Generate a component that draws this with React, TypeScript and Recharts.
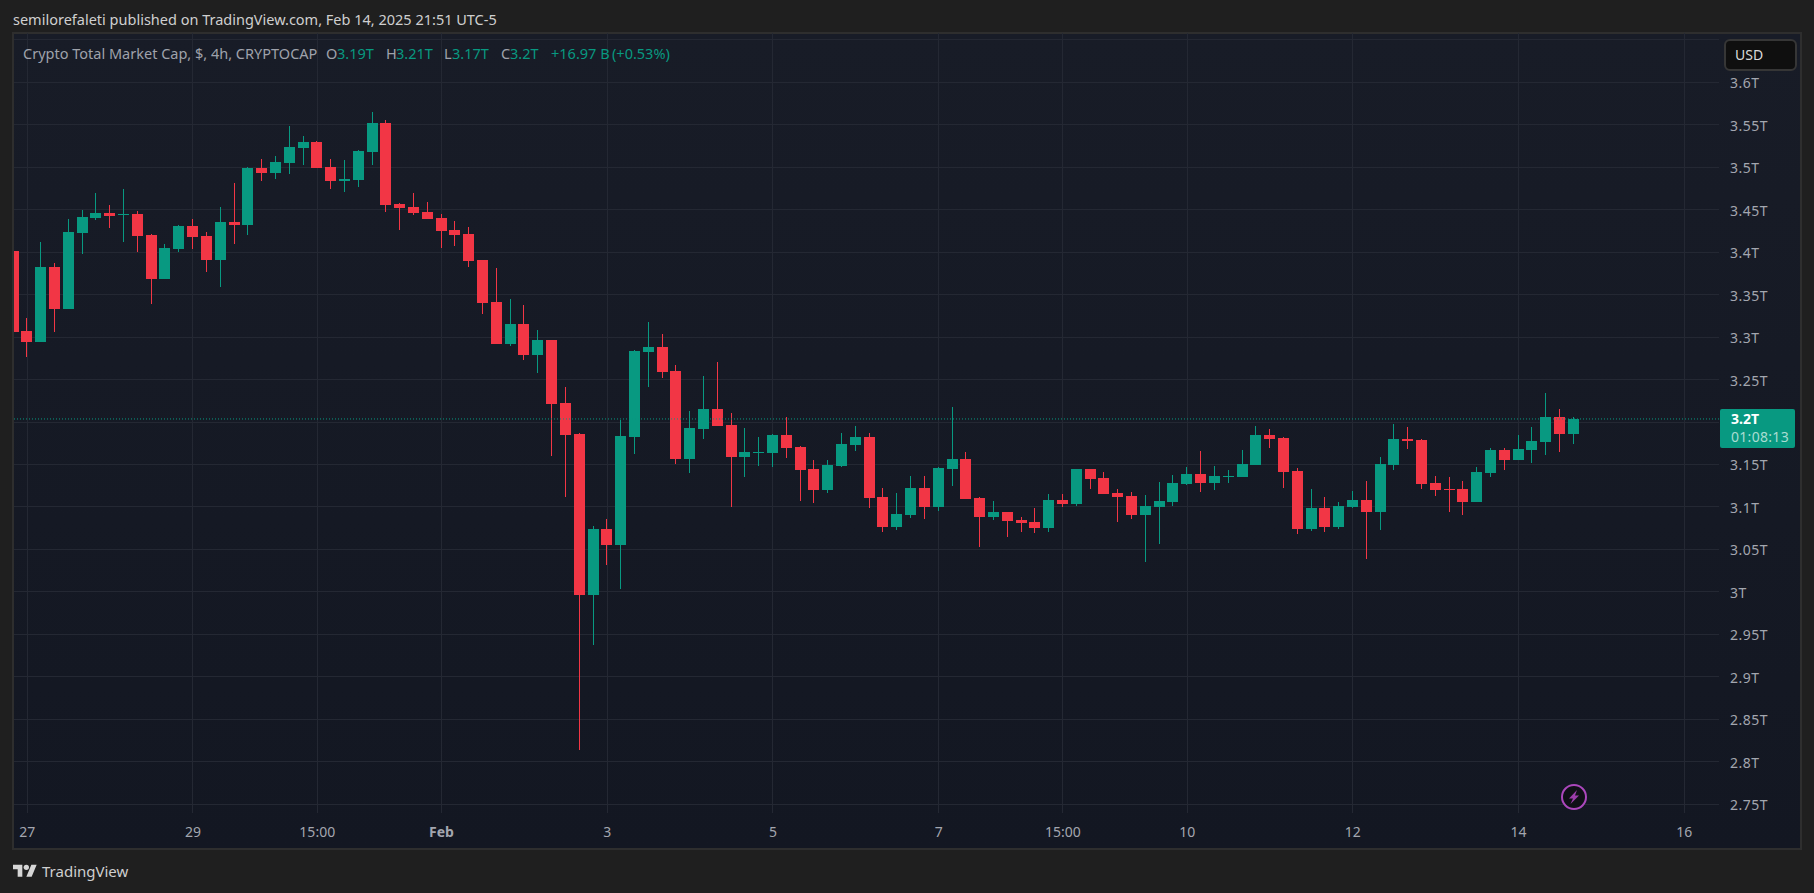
import React from "react";
import { Bar, CartesianGrid, ComposedChart, ReferenceLine, XAxis, YAxis } from "recharts";

const opens = [
  3.4014, 3.3072, 3.2943, 3.3826, 3.3331, 3.4226, 3.4403, 3.4462, 3.4438, 3.4450,
  3.4203, 3.3685, 3.4038, 3.4309, 3.4191, 3.3908, 3.4356, 3.4320, 3.4991, 3.4933,
  3.5050, 3.5227, 3.5298, 3.5003, 3.4838, 3.4850, 3.5180, 3.5521, 3.4568, 3.4532,
  3.4473, 3.4403, 3.4262, 3.4214, 3.3908, 3.3414, 3.2919, 3.3154, 3.2789, 3.2966,
  3.2224, 3.1859, 2.9964, 3.0741, 3.0553, 3.1824, 3.2825, 3.2884, 3.2601, 3.1565,
  3.1918, 3.2154, 3.1965, 3.1589, 3.1636, 3.1636, 3.1848, 3.1706, 3.1447, 3.1200,
  3.1483, 3.1730, 3.1824, 3.1118, 3.0765, 3.0906, 3.1224, 3.1000, 3.1448, 3.1565,
  3.1106, 3.0883, 3.0941, 3.0847, 3.0824, 3.0753, 3.1083, 3.1036, 3.1448, 3.1342,
  3.1165, 3.1130, 3.0906, 3.1000, 3.1059, 3.1271, 3.1389, 3.1283, 3.1354, 3.1354,
  3.1495, 3.1848, 3.1813, 3.1424, 3.0741, 3.0989, 3.0765, 3.1000, 3.1083, 3.0941,
  3.1495, 3.1801, 3.1789, 3.1283, 3.1212, 3.1212, 3.1059, 3.1401, 3.1671, 3.1554,
  3.1671, 3.1766, 3.2060, 3.1860,
];
const highs = [
  3.4014, 3.3226, 3.4120, 3.3873, 3.4391, 3.4497, 3.4697, 3.4556, 3.4744, 3.4485,
  3.4214, 3.4097, 3.4320, 3.4391, 3.4238, 3.4532, 3.4815, 3.5003, 3.5097, 3.5133,
  3.5486, 3.5368, 3.5309, 3.5097, 3.5086, 3.5203, 3.5651, 3.5557, 3.4579, 3.4697,
  3.4591, 3.4450, 3.4367, 3.4297, 3.3908, 3.3814, 3.3449, 3.3378, 3.3084, 3.2966,
  3.2413, 3.1871, 3.0776, 3.0859, 3.2024, 3.2848, 3.3178, 3.3037, 3.2672, 3.2130,
  3.2542, 3.2707, 3.2107, 3.1930, 3.1824, 3.1859, 3.2060, 3.1718, 3.1553, 3.1553,
  3.1871, 3.1954, 3.1871, 3.1224, 3.1165, 3.1365, 3.1365, 3.1471, 3.2178, 3.1648,
  3.1118, 3.1071, 3.0941, 3.0883, 3.0989, 3.1153, 3.1153, 3.1448, 3.1448, 3.1412,
  3.1212, 3.1177, 3.1142, 3.1295, 3.1377, 3.1471, 3.1660, 3.1483, 3.1436, 3.1671,
  3.1954, 3.1919, 3.1824, 3.1460, 3.1212, 3.1118, 3.1059, 3.1189, 3.1306, 3.1589,
  3.1978, 3.1942, 3.1801, 3.1365, 3.1354, 3.1306, 3.1471, 3.1695, 3.1695, 3.1848,
  3.1942, 3.2342, 3.2154, 3.2060,
];
const lows = [
  3.2543, 3.2766, 3.2943, 3.3061, 3.3331, 3.3979, 3.4379, 3.4285, 3.4120, 3.4002,
  3.3390, 3.3685, 3.4002, 3.4038, 3.3767, 3.3590, 3.4097, 3.4203, 3.4838, 3.4862,
  3.4921, 3.5027, 3.4991, 3.4744, 3.4709, 3.4768, 3.5027, 3.4473, 3.4262, 3.4438,
  3.4391, 3.4050, 3.4073, 3.3826, 3.3273, 3.2919, 3.2895, 3.2731, 3.2578, 3.1600,
  3.1118, 2.8139, 2.9375, 3.0317, 3.0035, 3.1624, 3.2413, 3.2519, 3.1506, 3.1400,
  3.1801, 3.1954, 3.1000, 3.1353, 3.1483, 3.1471, 3.1577, 3.1071, 3.1047, 3.1165,
  3.1471, 3.1659, 3.0988, 3.0706, 3.0729, 3.0871, 3.0859, 3.0953, 3.1248, 3.1095,
  3.0529, 3.0847, 3.0647, 3.0706, 3.0694, 3.0706, 3.1000, 3.1012, 3.1212, 3.1153,
  3.0824, 3.0859, 3.0353, 3.0565, 3.1012, 3.1259, 3.1177, 3.1201, 3.1283, 3.1354,
  3.1495, 3.1695, 3.1224, 3.0682, 3.0718, 3.0706, 3.0741, 3.0989, 3.0388, 3.0730,
  3.1436, 3.1683, 3.1212, 3.1130, 3.0941, 3.0906, 3.1059, 3.1354, 3.1436, 3.1554,
  3.1518, 3.1613, 3.1648, 3.1742,
];
const closes = [
  3.3061, 3.2943, 3.3826, 3.3331, 3.4238, 3.4415, 3.4462, 3.4426, 3.4450, 3.4191,
  3.3685, 3.4050, 3.4309, 3.4179, 3.3908, 3.4356, 3.4320, 3.4991, 3.4933, 3.5062,
  3.5239, 3.5298, 3.4991, 3.4838, 3.4862, 3.5192, 3.5521, 3.4556, 3.4521, 3.4462,
  3.4391, 3.4250, 3.4203, 3.3897, 3.3402, 3.2919, 3.3154, 3.2789, 3.2966, 3.2213,
  3.1848, 2.9964, 3.0741, 3.0553, 3.1836, 3.2837, 3.2884, 3.2589, 3.1565, 3.1930,
  3.2154, 3.1954, 3.1589, 3.1647, 3.1647, 3.1848, 3.1695, 3.1436, 3.1200, 3.1494,
  3.1742, 3.1824, 3.1106, 3.0765, 3.0918, 3.1224, 3.1000, 3.1460, 3.1565, 3.1095,
  3.0883, 3.0941, 3.0836, 3.0812, 3.0753, 3.1083, 3.1036, 3.1448, 3.1330, 3.1153,
  3.1118, 3.0906, 3.1012, 3.1071, 3.1283, 3.1389, 3.1283, 3.1365, 3.1365, 3.1507,
  3.1848, 3.1801, 3.1412, 3.0741, 3.0989, 3.0765, 3.1012, 3.1083, 3.0941, 3.1507,
  3.1801, 3.1777, 3.1271, 3.1201, 3.1201, 3.1059, 3.1412, 3.1671, 3.1554, 3.1683,
  3.1777, 3.2060, 3.1860, 3.2036,
];

const priceTicks = [
  2.75, 2.8, 2.85, 2.9, 2.95, 3, 3.05, 3.1, 3.15, 3.2, 3.25, 3.3, 3.35, 3.4, 3.45, 3.5, 3.55, 3.6, 3.65,
];
const timeTicks = [1, 13, 22, 31, 43, 55, 67, 76, 85, 97, 109, 121];
const timeLabels = ["27", "29", "15:00", "Feb", "3", "5", "7", "15:00", "10", "12", "14", "16"];

const lastPrice = closes[closes.length - 1];

const data = opens.map((open, i) => ({
  idx: i,
  open,
  high: highs[i],
  low: lows[i],
  close: closes[i],
}));

const UP = "#089981";
const DOWN = "#F23645";
const GRID = "#242833";
const AXIS_TEXT = "#A3A6AF";
const FONT = "'Noto Sans', sans-serif";

function Candle(props: any) {
  const { x, y, width, height, payload } = props;
  const { open, high, low, close } = payload;
  const perUnit = Math.abs(height) / (high - low);
  const color = close >= open ? UP : DOWN;
  const cx = Math.floor(x + width / 2);
  const top = Math.round(y + (high - Math.max(open, close)) * perUnit);
  const bottom = Math.round(y + (high - Math.min(open, close)) * perUnit);
  const wickTop = Math.round(y);
  const wickBottom = Math.round(y + Math.abs(height));
  return (
    <g>
      <rect x={cx} y={wickTop} width={1} height={wickBottom - wickTop} fill={color} />
      <rect x={cx - 5} y={top} width={11} height={Math.max(1, bottom - top)} fill={color} />
    </g>
  );
}

function TimeTick(props: any) {
  const { x, y, payload } = props;
  const label = timeLabels[timeTicks.indexOf(payload.value)];
  return (
    <text
      x={x}
      y={y + 16}
      textAnchor="middle"
      fill={AXIS_TEXT}
      fontSize={14}
      fontFamily={FONT}
      fontWeight={label === "Feb" ? 700 : 400}
    >
      {label}
    </text>
  );
}

function PriceTag(props: any) {
  const { viewBox } = props;
  const left = viewBox.x + viewBox.width + 1;
  const top = viewBox.y - 10;
  return (
    <g fontFamily={FONT}>
      <rect x={left} y={top} width={75} height={39} fill={UP} rx={2} />
      <text x={left + 11} y={top + 15} fill="#FFFFFF" fontSize={14} fontWeight={700}>
        3.2T
      </text>
      <text x={left + 11} y={top + 33} fill="#A9DCD2" fontSize={14} letterSpacing={0.3}>
        01:08:13
      </text>
    </g>
  );
}

const legendParts: [string, number, string][] = [
  ["Crypto Total Market Cap, $, 4h, CRYPTOCAP", 23, "#9FA2AB"],
  ["O", 326, "#9FA2AB"],
  ["3.19T", 337, UP],
  ["H", 386, "#9FA2AB"],
  ["3.21T", 396, UP],
  ["L", 444, "#9FA2AB"],
  ["3.17T", 452, UP],
  ["C", 501, "#9FA2AB"],
  ["3.2T", 510, UP],
  ["+16.97 B", 551, UP],
  ["(+0.53%)", 612, UP],
];

export default function App() {
  return (
    <div
      style={{
        position: "absolute",
        left: 0,
        top: 0,
        width: 1814,
        height: 893,
        overflow: "hidden",
        background: "#1F1F1F",
        fontFamily: FONT,
      }}
    >
      <div style={{ position: "absolute", left: 13, top: 10, fontSize: 14.5, lineHeight: "18px", color: "#CFCFCF", whiteSpace: "nowrap" }}>
        semilorefaleti published on TradingView.com, Feb 14, 2025 21:51 UTC-5
      </div>

      <div
        style={{
          position: "absolute",
          left: 12,
          top: 32,
          width: 1786,
          height: 814,
          border: "2px solid #2E2E2E",
          background: "linear-gradient(180deg, #181C27 0%, #131722 100%)",
        }}
      />

      <div style={{ position: "absolute", left: 0, top: 0 }}>
        <ComposedChart
          width={1814}
          height={893}
          data={data}
          margin={{ top: 33, right: 14, bottom: 45, left: 14 }}
          barSize={11}
        >
          <CartesianGrid stroke={GRID} shapeRendering="crispEdges" syncWithTicks />
          <XAxis
            dataKey="idx"
            type="number"
            domain={[0.037, 123.515]}
            allowDataOverflow
            ticks={timeTicks}
            interval={0}
            height={35}
            axisLine={false}
            tickLine={false}
            tick={<TimeTick />}
          />
          <YAxis
            orientation="right"
            type="number"
            domain={[2.7397, 3.658]}
            allowDataOverflow
            ticks={priceTicks}
            interval={0}
            width={81}
            axisLine={false}
            tickLine={false}
            tickSize={0}
            tickMargin={11}
            dy={1}
            tick={{ fontSize: 14, fill: AXIS_TEXT, fontFamily: FONT, letterSpacing: 0.5 }}
            tickFormatter={(v: number) => (v === 3.65 || v === 3.2 ? "" : `${v}T`)}
          />
          <ReferenceLine y={lastPrice} stroke={UP} strokeDasharray="1 2" label={<PriceTag />} />
          <Bar dataKey={(d: any) => [d.low, d.high]} shape={<Candle />} isAnimationActive={false} />
        </ComposedChart>
      </div>

      {legendParts.map(([text, left, color]) => (
        <span
          key={text + left}
          style={{ position: "absolute", left, top: 44, fontSize: 14.5, lineHeight: "18px", color, whiteSpace: "nowrap" }}
        >
          {text}
        </span>
      ))}

      <div
        style={{
          position: "absolute",
          left: 1724,
          top: 39,
          width: 60,
          height: 28,
          border: "2px solid #363636",
          borderRadius: 6,
          background: "#0F0F0F",
          color: "#DBDBDB",
          fontSize: 14,
          lineHeight: "28px",
          paddingLeft: 9,
          boxSizing: "content-box",
        }}
      >
        USD
      </div>

      <svg style={{ position: "absolute", left: 1558, top: 781 }} width={32} height={32}>
        <circle cx={16} cy={16} r={12} fill="#0F1017" stroke="#AB47BC" strokeWidth={2} />
        <path d="M19 9 L11 17.5 L15 17.5 L12.5 23 L21 14.5 L17 14.5 Z" fill="#9C3DAB" />
      </svg>

      <svg style={{ position: "absolute", left: 13, top: 862 }} width={24} height={18} viewBox="0 0 36 27">
        <path d="M14 22H7V11H0V4h14v18zM28 22h-8l7.5-18h8L28 22z" fill="#D6D6D6" />
        <circle cx={20} cy={8} r={4} fill="#D6D6D6" />
      </svg>
      <div style={{ position: "absolute", left: 42, top: 861, fontSize: 15, lineHeight: "20px", color: "#CFCFCF" }}>
        TradingView
      </div>
    </div>
  );
}
